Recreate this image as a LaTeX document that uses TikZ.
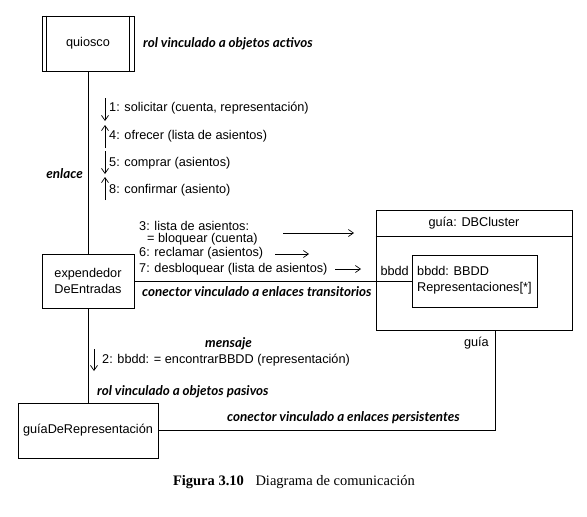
\documentclass[tikz,border=0pt]{standalone}
\usepackage{fontspec}
\setmainfont{Liberation Sans}
\newfontfamily\annfont{Lato}
\newfontfamily\capfont{Liberation Serif}
\usetikzlibrary{arrows.meta}
\begin{document}
\begin{tikzpicture}[x=1pt,y=-1pt,
  mainfont/.style={font=\fontsize{12.7}{16}\selectfont},
  box/.style={draw, line width=0.7pt, inner sep=0pt, align=center, mainfont},
  txt/.style={inner sep=0pt, anchor=west, align=left, mainfont},
  ann/.style={inner sep=0pt, anchor=west, font=\annfont\bfseries\itshape\fontsize{13.4}{15}\selectfont},
  conn/.style={line width=0.7pt},
  msgarrow/.style={line width=0.7pt, -{Straight Barb[length=5pt,width=7pt]}},
]
\useasboundingbox (0,0) rectangle (587,517);

% objects
\node[box, minimum width=92pt, minimum height=55pt] (q) at (88,43.5) {quiosco};
\draw[conn] ([xshift=5pt]q.north west) -- ([xshift=5pt]q.south west);
\draw[conn] ([xshift=-5pt]q.north east) -- ([xshift=-5pt]q.south east);
\node[box, minimum width=92pt, minimum height=54pt] (e) at (88,281) {expendedor\\DeEntradas};
\node[box, minimum width=140pt, minimum height=55pt] (g) at (88,430.5) {guíaDeRepresentación};
\node[box, minimum width=196pt, minimum height=120pt] (d) at (474,270) {};
\node[inner sep=0pt, mainfont] (dt) at (474,223) {guía: DBCluster};
\draw[conn] ([yshift=-27pt]d.north west) -- ([yshift=-27pt]d.north east);
\node[box, minimum width=125pt, minimum height=52pt] (b) at (474.5,281) {};
\node[txt] (bt) at (417,280) {bbdd: BBDD\\Representaciones[*]};

% connectors
\draw[conn] (q.south) -- (e.north);
\draw[conn] (e.south) -- (g.north);
\draw[conn] (e.east) -- (b.west);
\coordinate (gt) at ([xshift=21pt]d.south);
\draw[conn] (gt) |- (g.east);

% role labels
\node[inner sep=0pt, anchor=east, mainfont] (lbbdd) at (409,271) {bbdd};
\node[inner sep=0pt, anchor=east, mainfont] (lguia) at (489,343) {guía};

% annotations
\node[ann] (a1) at (143,44) {rol vinculado a objetos activos};
\node[ann, anchor=east] (a2) at (83,174) {enlace};
\node[ann] (a3) at (142,292) {conector vinculado a enlaces transitorios};
\node[ann] (a4) at (205,344) {mensaje};
\node[ann] (a5) at (97,392) {rol vinculado a objetos pasivos};
\node[ann] (a6) at (227,418) {conector vinculado a enlaces persistentes};

% messages on the link quiosco - expendedor
\node[txt] (m1) at (109,108) {1: solicitar (cuenta, representación)};
\node[txt] (m4) at (109,136) {4: ofrecer (lista de asientos)};
\node[txt] (m5) at (109,163) {5: comprar (asientos)};
\node[txt] (m8) at (109,190) {8: confirmar (asiento)};
\coordinate (m1s) at (105,98);  \coordinate (m1e) at (105,121);
\coordinate (m4s) at (105,148); \coordinate (m4e) at (105,125);
\coordinate (m5s) at (105,151); \coordinate (m5e) at (105,174);
\coordinate (m8s) at (105,200); \coordinate (m8e) at (105,177);
\draw[msgarrow] (m1s) -- (m1e);
\draw[msgarrow] (m4s) -- (m4e);
\draw[msgarrow] (m5s) -- (m5e);
\draw[msgarrow] (m8s) -- (m8e);

% messages on the transient connector
\node[txt] (m3a) at (139,226) {3: lista de asientos:};
\node[txt] (m3b) at (147,239) {= bloquear (cuenta)};
\node[txt] (m6) at (139,253) {6: reclamar (asientos)};
\node[txt] (m7) at (139,269) {7: desbloquear (lista de asientos)};
\coordinate (m3s) at (283,233); \coordinate (m3e) at (354,233);
\coordinate (m6s) at (275,254); \coordinate (m6e) at (309,254);
\coordinate (m7s) at (335,269); \coordinate (m7e) at (361,269);
\draw[msgarrow] (m3s) -- (m3e);
\draw[msgarrow] (m6s) -- (m6e);
\draw[msgarrow] (m7s) -- (m7e);

% message 2
\node[txt] (m2) at (102,360) {2: bbdd: = encontrarBBDD (representación)};
\coordinate (m2s) at (94,349); \coordinate (m2e) at (94,371);
\draw[msgarrow] (m2s) -- (m2e);

% caption
\node[inner sep=0pt, font=\capfont\fontsize{14.5}{17}\selectfont] (cap) at (294,482)
  {\textbf{Figura 3.10}\hspace{0.8em}Diagrama de comunicación};
\end{tikzpicture}
\end{document}
